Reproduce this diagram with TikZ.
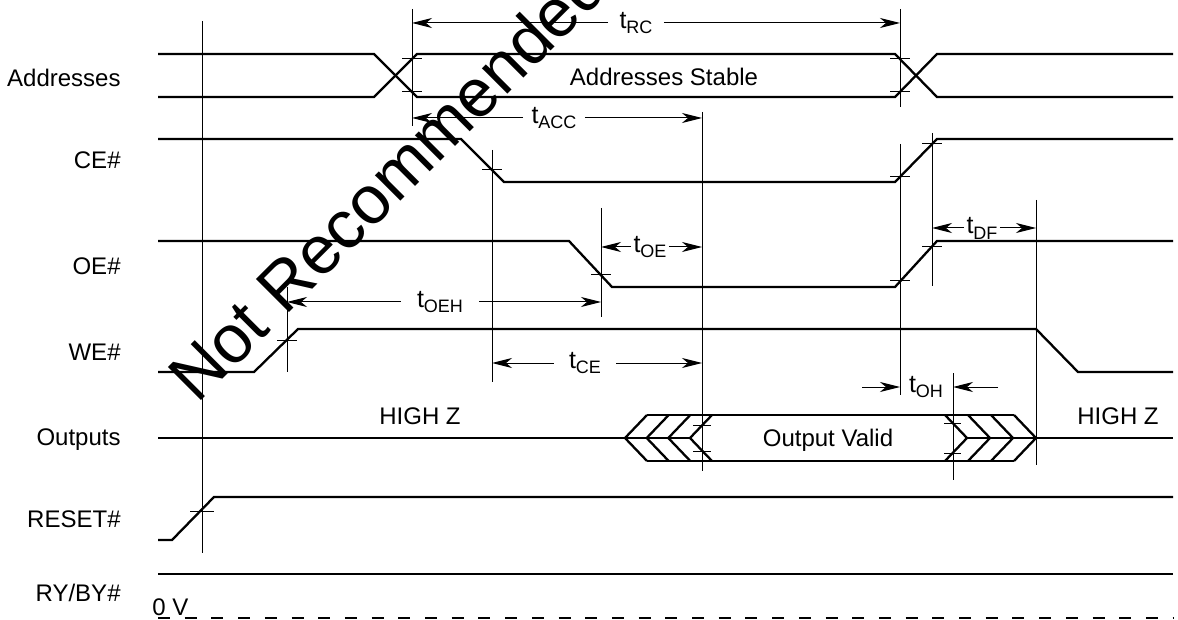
\documentclass[tikz,border=0pt]{standalone}
\usepackage{fontspec}
\setmainfont{Liberation Sans}
\usetikzlibrary{arrows.meta}
\newcommand{\tsub}[1]{t\raisebox{-0.45ex}{\fontsize{9}{9}\selectfont #1}}

\begin{document}
\begin{tikzpicture}[x=0.5pt,y=-0.5pt]
\tikzset{
  sig/.style={line width=1.15pt},
  guide/.style={line width=0.5pt},
  dimarrow/.style={-{Stealth[length=10pt,width=5pt,inset=3pt]},line width=0.5pt},
  siglabel/.style={anchor=east,inner sep=0pt,font=\fontsize{12}{14}\selectfont},
  tlabel/.style={inner xsep=3pt,inner ysep=0pt,font=\fontsize{12.5}{14}\selectfont},
  plain/.style={inner sep=0pt,font=\fontsize{12}{14}\selectfont}
}
\useasboundingbox (0,0) rectangle (1178,620);

% signal names
\node[siglabel] (l_addr) at (121,78) {Addresses};
\node[siglabel] (l_ce) at (121,160) {CE\#};
\node[siglabel] (l_oe) at (121,266) {OE\#};
\node[siglabel] (l_we) at (121,352) {WE\#};
\node[siglabel] (l_out) at (121,440) {Outputs};
\node[siglabel] (l_rst) at (121,519) {RESET\#};
\node[siglabel] (l_ry) at (121,593) {RY/BY\#};

% waveforms
\draw[sig] (158,54) -- (374,54) -- (417,97) -- (895,97) -- (937,54) -- (1173,54);
\draw[sig] (158,97) -- (374,97) -- (417,54) -- (895,54) -- (937,97) -- (1173,97);
\node[plain] (s_addr) at (664,77) {Addresses Stable};
\draw[sig] (158,139) -- (461,139) -- (504,182) -- (895,182) -- (937,139) -- (1173,139);
\draw[sig] (158,241) -- (569,241) -- (612,287) -- (895,287) -- (937,241) -- (1173,241);
\draw[sig] (158,372) -- (254,372) -- (298,329) -- (1036,329) -- (1078,372) -- (1173,372);
\draw[sig] (158,540) -- (172,540) -- (214,497) -- (1173,497);
\draw[sig] (158,574) -- (1173,574);
\draw[sig,dash pattern=on 6pt off 7.35pt] (158,618) -- (1173,618);
\node[plain,anchor=south west] (l_zero) at (152,616) {0 V};

% outputs
\draw[sig] (158,438) -- (690,438);
\draw[sig] (967,438) -- (1173,438);
\draw[sig] (647,415) -- (625,438) -- (647,461);
\draw[sig] (668.7,415) -- (646.7,438) -- (668.7,461);
\draw[sig] (690.3,415) -- (668.3,438) -- (690.3,461);
\draw[sig] (712,415) -- (690,438) -- (712,461);
\draw[sig] (647,415) -- (1014,415);
\draw[sig] (647,461) -- (1014,461);
\draw[sig] (945,415) -- (967,438) -- (945,461);
\draw[sig] (968,415) -- (990,438) -- (968,461);
\draw[sig] (991,415) -- (1013,438) -- (991,461);
\draw[sig] (1014,415) -- (1036,438) -- (1014,461);
\node[plain] (s_out) at (828,440) {Output Valid};
\node[plain] (z_left) at (420,416) {HIGH Z};
\node[plain] (z_right) at (1118,416) {HIGH Z};

% reference lines
\draw[guide] (202,21) -- (202,553);
\draw[guide] (412,9) -- (412,126);
\draw[guide] (900,9) -- (900,107);
\draw[guide] (702,112) -- (702,471);
\draw[guide] (492,150) -- (492,382);
\draw[guide] (601,208) -- (601,317);
\draw[guide] (287,287) -- (287,372);
\draw[guide] (900,144) -- (900,395);
\draw[guide] (932,133) -- (932,286);
\draw[guide] (1036,200) -- (1036,465);
\draw[guide] (953,373) -- (953,480);

% crossing ticks
\draw[guide] (402,59) -- (422,59);
\draw[guide] (402,92) -- (422,92);
\draw[guide] (890,59) -- (910,59);
\draw[guide] (890,92) -- (910,92);
\draw[guide] (482,170) -- (502,170);
\draw[guide] (890,177) -- (910,177);
\draw[guide] (922,144) -- (942,144);
\draw[guide] (591,275) -- (611,275);
\draw[guide] (890,281) -- (910,281);
\draw[guide] (922,247) -- (942,247);
\draw[guide] (277,340) -- (297,340);
\draw[guide] (190,511) -- (214,511);
\draw[guide] (693,425) -- (711,425);
\draw[guide] (693,451) -- (711,451);
\draw[guide] (944,423) -- (961,423);
\draw[guide] (944,453) -- (961,453);

% timing parameters
\coordinate (rc_a) at (412,23);
\coordinate (rc_b) at (900,23);
\node[tlabel,inner xsep=5.5pt] (t_rc) at (636,23) {\tsub{RC}};
\draw[dimarrow] (t_rc) -- (rc_a);
\draw[dimarrow] (t_rc) -- (rc_b);

\coordinate (acc_a) at (412,118);
\coordinate (acc_b) at (702,118);
\node[tlabel,inner xsep=4pt] (t_acc) at (554,118) {\tsub{ACC}};
\draw[dimarrow] (t_acc) -- (acc_a);
\draw[dimarrow] (t_acc) -- (acc_b);

\coordinate (oe_a) at (601,247);
\coordinate (oe_b) at (702,247);
\node[tlabel,inner xsep=1pt] (t_oe) at (650,247) {\tsub{OE}};
\draw[dimarrow] (t_oe) -- (oe_a);
\draw[dimarrow] (t_oe) -- (oe_b);

\coordinate (df_a) at (932,228);
\coordinate (df_b) at (1036,228);
\node[tlabel,inner xsep=1pt] (t_df) at (982,228) {\tsub{DF}};
\draw[dimarrow] (t_df) -- (df_a);
\draw[dimarrow] (t_df) -- (df_b);

\coordinate (oeh_a) at (287,302);
\coordinate (oeh_b) at (601,302);
\node[tlabel,inner xsep=8pt] (t_oeh) at (440,302) {\tsub{OEH}};
\draw[dimarrow] (t_oeh) -- (oeh_a);
\draw[dimarrow] (t_oeh) -- (oeh_b);

\coordinate (ce_a) at (492,363);
\coordinate (ce_b) at (702,363);
\node[tlabel,inner xsep=7.5pt] (t_ce) at (585,363) {\tsub{CE}};
\draw[dimarrow] (t_ce) -- (ce_a);
\draw[dimarrow] (t_ce) -- (ce_b);

\coordinate (oh_a0) at (862,387);
\coordinate (oh_a) at (900,387);
\coordinate (oh_b0) at (998,387);
\coordinate (oh_b) at (953,387);
\node[tlabel] (t_oh) at (926,387) {\tsub{OH}};
\draw[dimarrow] (oh_a0) -- (oh_a);
\draw[dimarrow] (oh_b0) -- (oh_b);

% watermark
\node[rotate=45,anchor=base west,inner sep=0pt,font=\fontsize{34}{34}\selectfont] (wm) at (197,405) {Not Recommended};
\end{tikzpicture}
\end{document}
